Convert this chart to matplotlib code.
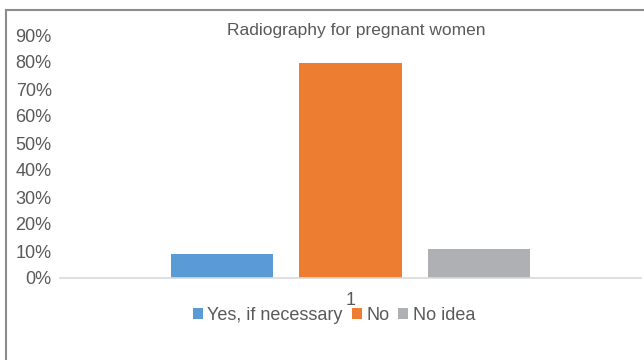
import matplotlib
matplotlib.use("Agg")
import matplotlib.pyplot as plt
from matplotlib.lines import Line2D
from matplotlib.ticker import PercentFormatter

plt.rcParams['font.family'] = ['Liberation Sans', 'DejaVu Sans']

categories = ["1"]
series_names = ["Yes, if necessary", "No", "No idea"]
series_values = [8.9, 79.8, 10.7]
colors = ["#5B9BD5", "#ED7D31", "#AFB0B3"]
y_ticks = [0, 10, 20, 30, 40, 50, 60, 70, 80, 90]

text_color = "#595959"

fig = plt.figure(figsize=(6.44, 3.6), dpi=100)
ax = fig.add_axes([60 / 644, 1 - 278 / 360, 581 / 644, 243 / 360])

bar_w = 0.1756
step = 0.222
for i, (name, val, col) in enumerate(zip(series_names, series_values, colors)):
    ax.bar(1 + (i - 1) * step, val, width=bar_w, color=col, label=name, zorder=2)

ax.set_xlim(0.5, 1.5)
ax.set_ylim(0, 90)
ax.set_yticks(y_ticks)
ax.yaxis.set_major_formatter(PercentFormatter(decimals=0))
ax.set_xticks([1])
ax.set_xticklabels(categories)
ax.tick_params(axis='both', length=0, labelsize=13, colors=text_color)
ax.tick_params(axis='y', pad=6)
ax.tick_params(axis='x', pad=10)

for side in ['top', 'right', 'left']:
    ax.spines[side].set_visible(False)
ax.spines['bottom'].set_color("#D9D9D9")
ax.spines['bottom'].set_linewidth(1.2)
ax.patch.set_alpha(0)

fig.text(356 / 644, 1 - 30 / 360, "Radiography for pregnant women",
         ha='center', va='center', fontsize=12.5, color=text_color)

handles, labels = ax.get_legend_handles_labels()
fig.legend(handles, labels, loc='center', bbox_to_anchor=(334 / 644, 1 - 315 / 360),
           ncol=3, frameon=False, fontsize=13, labelcolor=text_color,
           handlelength=0.55, handleheight=0.55, handletextpad=0.25, columnspacing=0.5)

# chart border
fig.add_artist(Line2D([5.5 / 644, 5.5 / 644], [0, 1 - 10 / 360], color="#8C8C8C", lw=1.5))
fig.add_artist(Line2D([5.5 / 644, 1], [1 - 10 / 360, 1 - 10 / 360], color="#8C8C8C", lw=1.5))

fig.savefig("out.png", dpi=100)
